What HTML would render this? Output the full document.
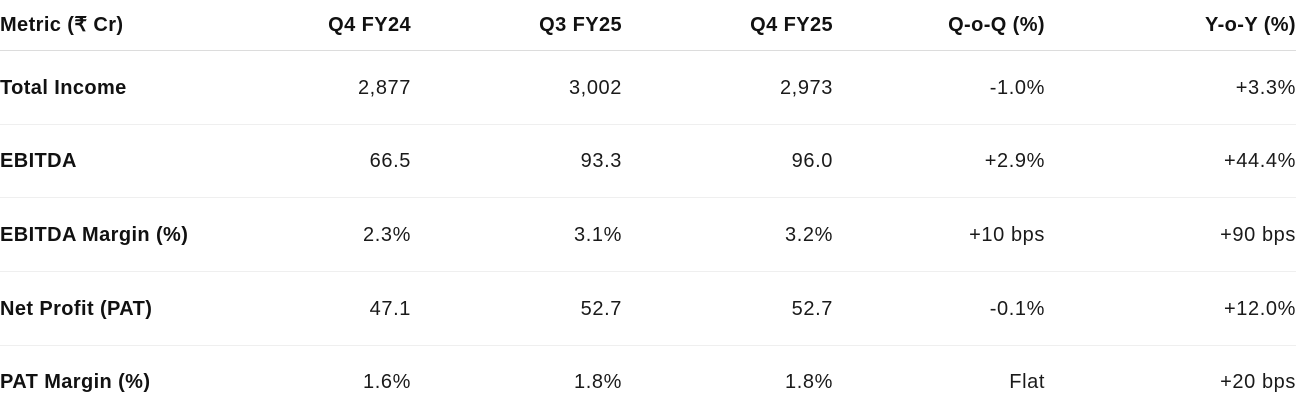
<!DOCTYPE html>
<html><head><meta charset="utf-8"><style>
body{margin:0;width:1314px;height:401px;background:#fff;overflow:hidden;font-family:"Liberation Sans","Noto Sans CJK SC",sans-serif;color:#1a1a1a;position:relative}
.c{position:absolute;font-size:20px;letter-spacing:0.6px;line-height:24px;white-space:nowrap}
.r{text-align:right}
.b{font-weight:bold;color:#111;letter-spacing:0.4px}
.ln{position:absolute;left:0;width:1296px;height:1px}
</style></head><body>
<div id="t"></div>
<script>
const headers=["Metric (₹ Cr)","Q4 FY24","Q3 FY25","Q4 FY25","Q-o-Q (%)","Y-o-Y (%)"];
const metrics=["Total Income","EBITDA","EBITDA Margin (%)","Net Profit (PAT)","PAT Margin (%)"];
const q4fy24=["2,877","66.5","2.3%","47.1","1.6%"];
const q3fy25=["3,002","93.3","3.1%","52.7","1.8%"];
const q4fy25=["2,973","96.0","3.2%","52.7","1.8%"];
const qoq=["-1.0%","+2.9%","+10 bps","-0.1%","Flat"];
const yoy=["+3.3%","+44.4%","+90 bps","+12.0%","+20 bps"];
const rights=[411,622,833,1045,1296];
const rowY=[88,161,235,309,382];
const t=document.getElementById('t');
function cell(txt,x,yc,right,bold,name){
  const d=document.createElement('div');
  d.className='c'+(right?' r':'')+(bold?' b':'');
  d.textContent=txt;
  d.style.top=(yc-12)+'px';
  if(right){d.style.right=(1314-x)+'px';}else{d.style.left=x+'px';}
  
  
  t.appendChild(d);
}
headers.forEach((h,i)=>{
  cell(h,i===0?0:rights[i-1],25,i>0,true,'header-'+i);
});
const hl=document.createElement('div');hl.className='ln';hl.style.top='50px';hl.style.background='#dcdcdc';


t.appendChild(hl);
const cols=[q4fy24,q3fy25,q4fy25,qoq,yoy];
metrics.forEach((m,r)=>{
  cell(m,0,rowY[r],false,true,'row-label-'+r);
  cols.forEach((col,j)=>cell(col[r],rights[j],rowY[r],true,false,'value-r'+r+'-c'+j));
  if(r<metrics.length-1){
    const l=document.createElement('div');l.className='ln';l.style.top=(rowY[r]+36)+'px';l.style.background='#efefef';
    
    
    t.appendChild(l);
  }
});
</script>
</body></html>
